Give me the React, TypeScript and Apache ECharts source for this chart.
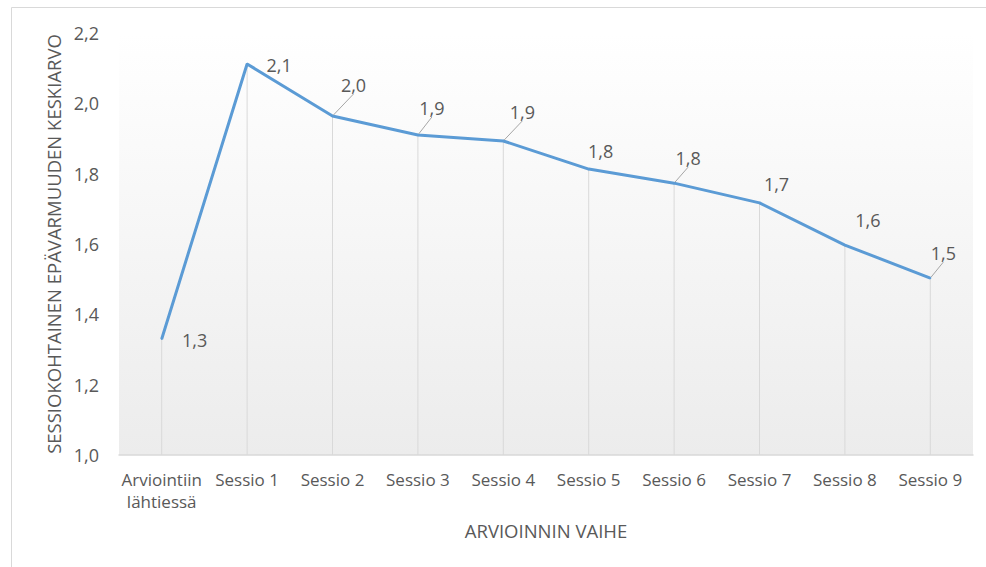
import React, { useEffect, useRef } from "react";
import * as echarts from "echarts";

const categories = [
  "Arviointiin\nlähtiessä",
  "Sessio 1",
  "Sessio 2",
  "Sessio 3",
  "Sessio 4",
  "Sessio 5",
  "Sessio 6",
  "Sessio 7",
  "Sessio 8",
  "Sessio 9",
];
const values = [1.33, 2.112, 1.964, 1.91, 1.893, 1.813, 1.773, 1.717, 1.597, 1.503];
const yTicks = { min: 1.0, max: 2.2, interval: 0.2 };
const leaderShown = [false, false, true, true, true, false, true, false, false, true];
// label offsets (px) relative to each point, centre of label
const labelOffsets: [number, number][] = [
  [33, 1],
  [32, 1],
  [21, -31],
  [14, -27],
  [19, -29],
  [12, -18],
  [14, -25],
  [17, -19],
  [23, -25],
  [13, -25],
];

const TEXT = "#595959";
const FONT = "'Open Sans', sans-serif";

export default function App() {
  const ref = useRef<HTMLDivElement>(null);
  useEffect(() => {
    if (!ref.current) return;
    const chart = echarts.init(ref.current, undefined, { renderer: "svg" });
    const fmt = (v: number) => v.toFixed(1).replace(".", ",");
    chart.setOption({
      animation: false,
      backgroundColor: "#ffffff",
      textStyle: { fontFamily: FONT },
      graphic: [
        {
          type: "rect",
          shape: { x: 11.5, y: 7.5, width: 1000, height: 600 },
          style: { fill: "none", stroke: "#d9d9d9", lineWidth: 1 },
          silent: true,
          z: -10,
        },
      ],
      grid: {
        left: 119,
        right: 13,
        top: 33,
        bottom: 112,
        show: true,
        borderWidth: 0,
        backgroundColor: new echarts.graphic.LinearGradient(0, 0, 0, 1, [
          { offset: 0, color: "#ffffff" },
          { offset: 1, color: "#ececec" },
        ]),
      },
      xAxis: {
        type: "category",
        data: categories,
        boundaryGap: true,
        axisTick: { show: false },
        axisLine: { lineStyle: { color: "#d9d9d9", width: 1.5 } },
        axisLabel: {
          interval: 0,
          color: TEXT,
          fontSize: 17,
          fontFamily: FONT,
          margin: 13,
          lineHeight: 22,
        },
        name: "ARVIOINNIN VAIHE",
        nameLocation: "middle",
        nameGap: 66,
        nameTextStyle: { color: TEXT, fontSize: 18.5, fontFamily: FONT },
      },
      yAxis: {
        type: "value",
        min: yTicks.min,
        max: yTicks.max,
        interval: yTicks.interval,
        axisLine: { show: false },
        axisTick: { show: false },
        splitLine: { show: false },
        axisLabel: {
          color: TEXT,
          fontSize: 18,
          fontFamily: FONT,
          margin: 20,
          formatter: (v: number) => fmt(v),
        },
        name: "SESSIOKOHTAINEN EPÄVARMUUDEN KESKIARVO",
        nameLocation: "middle",
        nameGap: 55,
        nameTextStyle: { color: TEXT, fontSize: 18.5, fontFamily: FONT },
      },
      series: [
        {
          type: "bar",
          data: values,
          barWidth: 1,
          silent: true,
          itemStyle: { color: "#d9d9d9" },
          z: 1,
        },
        {
          type: "line",
          data: values.map((v, i) => ({
            value: v,
            labelLine: { show: leaderShown[i] },
          })),
          symbol: "circle",
          symbolSize: 2,
          itemStyle: { color: "#5b9bd5" },
          lineStyle: { color: "#5b9bd5", width: 3 },
          z: 3,
          label: {
            show: true,
            position: "top",
            color: TEXT,
            fontSize: 18,
            fontFamily: FONT,
            formatter: (p: any) => fmt(p.value),
          },
          labelLine: {
            show: true,
            lineStyle: { color: "#a6a6a6", width: 1 },
          },
          labelLayout: (params: any) => {
            const i = params.dataIndex;
            const [dx, dy] = labelOffsets[i];
            return {
              x: params.rect.x + params.rect.width / 2 + dx,
              y: params.rect.y + params.rect.height / 2 + dy,
              align: "center",
              verticalAlign: "middle",
            };
          },
        },
      ],
    });
    return () => chart.dispose();
  }, []);
  return (
    <div
      ref={ref}
      style={{ position: "fixed", left: 0, top: 0, width: 986, height: 567 }}
    />
  );
}
